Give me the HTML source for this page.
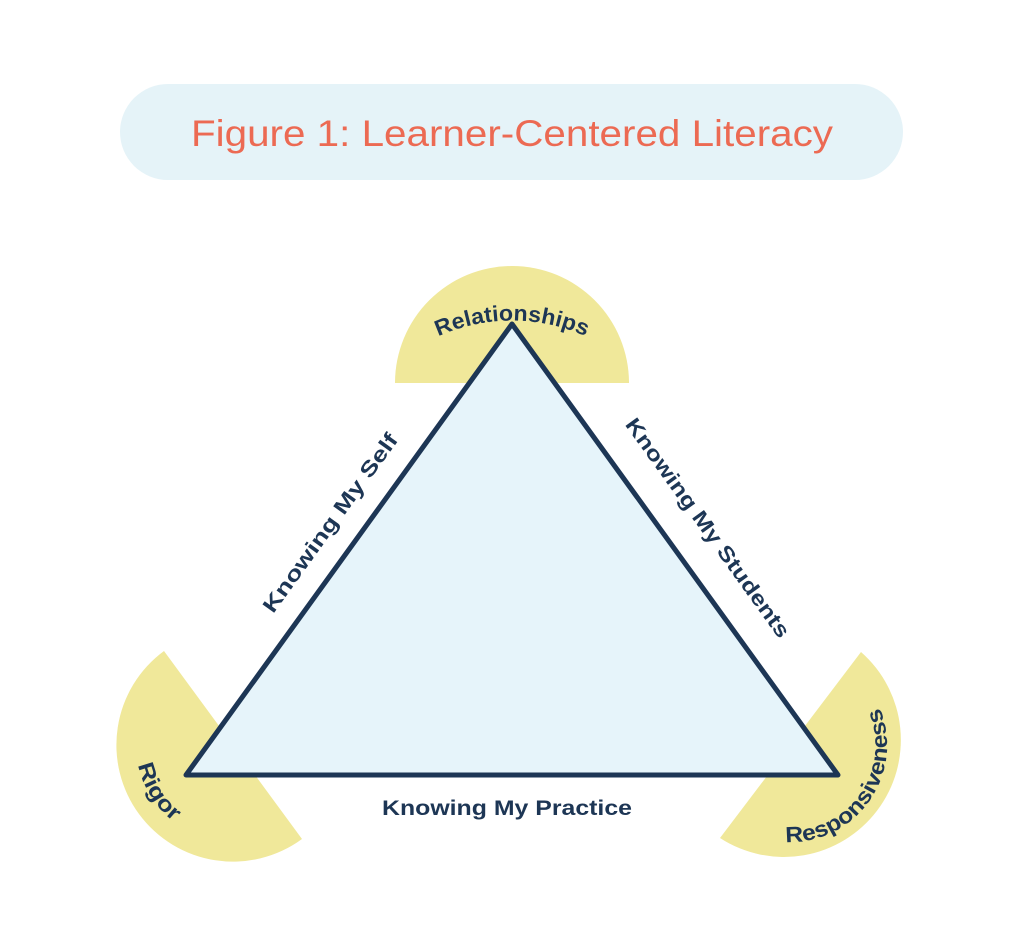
<!DOCTYPE html>
<html><head><meta charset="utf-8"><style>
html,body{margin:0;padding:0;background:#fff;}
svg{display:block;}
text{font-family:"Liberation Sans",sans-serif;}
.lab{font-weight:bold;font-size:21px;fill:#1d3655;}
.arc{font-weight:bold;font-size:22px;fill:#1d3655;}
</style></head><body>
<svg width="1024" height="943" viewBox="0 0 1024 943" xmlns="http://www.w3.org/2000/svg">
<defs>
<path id="pRel" d="M 385 373 A 180 180 0 0 1 639 373"/>
<path id="pRig" d="M 137.5 728.2 A 97 97 0 0 0 206.3 838.2"/>
<path id="pRes" d="M 756.8 836.2 A 97 97 0 0 0 864.3 682.6"/>
</defs>
<rect x="120" y="84" width="783" height="96" rx="48" fill="#e5f3f8"/>
<text x="512" y="146" text-anchor="middle" font-size="37" fill="#ec6a53" textLength="642" lengthAdjust="spacingAndGlyphs">Figure 1: Learner-Centered Literacy</text>

<path d="M 395 383 A 117 117 0 0 1 629 383 Z" fill="#f0e89a"/>
<path d="M 164 651 A 116 116 0 0 0 302 839 Z" fill="#f0e89a"/>
<path d="M 720 838 A 117 117 0 0 0 861 652 Z" fill="#f0e89a"/>

<path d="M 512 324 L 838 775 L 186 775 Z" fill="#e6f4fa" stroke="#1d3655" stroke-width="5" stroke-linejoin="round"/>

<text class="arc"><textPath href="#pRel" startOffset="50%" text-anchor="middle" textLength="152" lengthAdjust="spacingAndGlyphs">Relationships</textPath></text>
<text class="arc"><textPath href="#pRig" startOffset="50%" text-anchor="middle" textLength="68" lengthAdjust="spacingAndGlyphs">Rigor</textPath></text>
<text class="arc"><textPath href="#pRes" startOffset="50%" text-anchor="middle" textLength="195" lengthAdjust="spacingAndGlyphs">Responsiveness</textPath></text>

<text class="lab" transform="translate(336,527) rotate(-54.2)" text-anchor="middle" textLength="215" lengthAdjust="spacingAndGlyphs">Knowing My Self</text>
<text class="lab" transform="translate(702,532) rotate(54.2)" text-anchor="middle" textLength="265" lengthAdjust="spacingAndGlyphs">Knowing My Students</text>
<text class="lab" x="507" y="815" text-anchor="middle" textLength="250" lengthAdjust="spacingAndGlyphs">Knowing My Practice</text>
</svg>
</body></html>
